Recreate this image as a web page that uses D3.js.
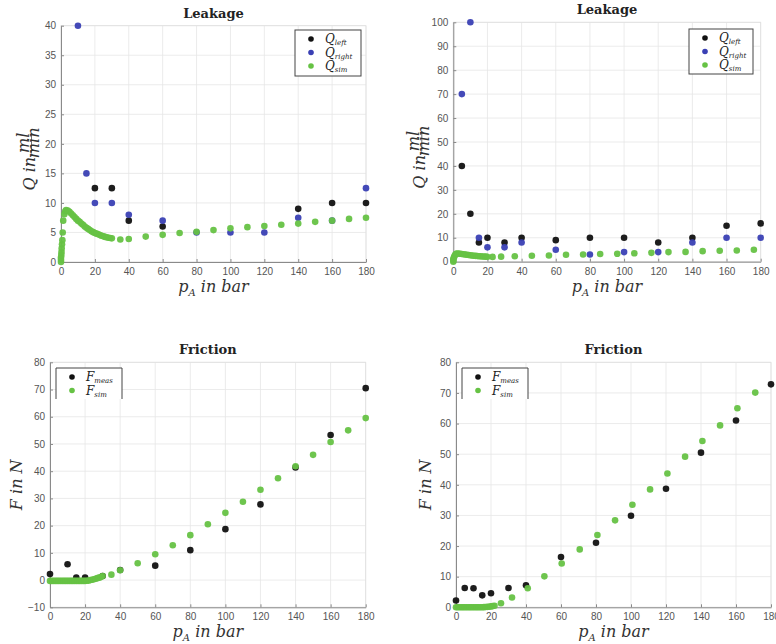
<!DOCTYPE html>
<html lang="en">
<head>
<meta charset="UTF-8" />
<title>Leakage and Friction</title>
<script src="https://d3js.org/d3.v7.min.js"></script>
<style>
  html, body { margin: 0; padding: 0; background: #fff; overflow: hidden; }
  svg { display: block; }
  .tick text { font-family: "Liberation Sans", Arial, sans-serif; font-size: 10px; fill: #555; }
  .ttl { font-family: "DejaVu Serif", "Liberation Serif", serif; font-weight: bold; font-size: 13px; fill: #222; }
  .lbl { font-family: "DejaVu Serif", "Liberation Serif", serif; font-style: italic; font-size: 16px; fill: #333; }
  .leg { font-family: "DejaVu Serif", "Liberation Serif", serif; font-style: italic; font-size: 12px; fill: #222; }
</style>
</head>
<body>
<svg width="776" height="644"></svg>
<script>
// ---- data ----
const xTicks = [0, 20, 40, 60, 80, 100, 120, 140, 160, 180];

// Leakage, left panel
const leakA_left = [[20,12.5],[30,12.5],[40,7],[60,6],[140,9],[160,10],[180,10]];
const leakA_right = [[10,40],[15,15],[20,10],[30,10],[40,8],[60,7],[80,5],[100,5],[120,5],[140,7.5],[160,7],[180,12.5]];
const leakA_sim = [[0,0],[0,0.4],[0,0.8],[0.2,1.2],[0.3,1.7],[0.4,2.3],[0.6,3],[0.8,3.7],[1,5],[1.3,7],[2,8.1],[2.5,8.6],
  [3,8.8],[4,8.7],[5,8.5],[6,8.2],[7,7.9],[8,7.6],[9,7.3],[10,7.0],[11,6.8],[12,6.5],[13,6.3],[14,6.0],[15,5.8],
  [16,5.6],[17,5.4],[18,5.2],[19,5.05],[20,4.9],[21,4.8],[22,4.7],[23,4.55],[24,4.45],[25,4.35],[26,4.25],[27,4.2],
  [28,4.1],[29,4.05],[30,4.0],[35,3.8],[40,3.9],[50,4.3],[60,4.6],[70,4.9],[80,5.1],[90,5.4],[100,5.7],[110,5.9],
  [120,6.1],[130,6.3],[140,6.5],[150,6.8],[160,7.0],[170,7.3],[180,7.5]];

// Leakage, right panel
const leakB_left = [[5,40],[10,20],[15,8],[20,10],[30,8],[40,10],[60,9],[80,10],[100,10],[120,8],[140,10],[160,15],[180,16]];
const leakB_right = [[5,70],[10,100],[15,10],[20,6],[30,6],[40,8],[60,5],[80,3],[100,4],[120,4],[140,8],[160,10],[180,10]];
const leakB_sim = [[0,0],[0,0.5],[0,1],[0.3,1.6],[0.6,2.2],[1,2.8],[1.5,3.2],[2,3.4],[3,3.4],[4,3.3],[5,3.2],[6,3.1],
  [7,3.0],[8,2.9],[9,2.8],[10,2.7],[11,2.6],[12,2.5],[13,2.45],[14,2.4],[15,2.3],[16,2.25],[17,2.2],[18,2.15],[19,2.1],
  [20,2.05],[23,2.0],[28,2.1],[36,2.3],[46,2.5],[56,2.6],[66,2.9],[76,3.0],[86,3.2],[96,3.3],[106,3.5],[116,3.7],
  [126,4.0],[136,4.1],[146,4.4],[156,4.6],[166,4.7],[176,5.0]];

// Friction, left panel
const fricA_meas = [[0,2.2],[10,5.8],[15,0.9],[20,0.9],[30,1.5],[40,3.7],[60,5.3],[80,11],[100,18.7],[120,27.8],[140,41.4],[160,53.3],[180,70.5]];
const fricA_sim = [[0,-0.3],[1,-0.3],[2,-0.3],[3,-0.3],[4,-0.3],[5,-0.3],[6,-0.3],[7,-0.3],[8,-0.3],[9,-0.3],[10,-0.3],
  [11,-0.3],[12,-0.3],[13,-0.3],[14,-0.3],[15,-0.3],[16,-0.3],[17,-0.3],[18,-0.3],[19,-0.3],[20,-0.3],[21,-0.25],
  [22,-0.2],[23,0],[24,0.1],[25,0.3],[26,0.5],[27,0.7],[28,0.9],[29,1.1],[30,1.5],[35,2],[40,3.6],[50,6.2],[60,9.5],
  [70,12.8],[80,16.5],[90,20.5],[100,24.7],[110,28.8],[120,33.2],[130,37.4],[140,41.8],[150,46],[160,50.7],[170,55],[180,59.5]];

// Friction, right panel
const fricB_meas = [[0,2.2],[5,6.3],[10,6.2],[15,3.9],[20,4.6],[30,6.3],[40,7.2],[60,16.4],[80,21.1],[100,29.9],[120,38.7],[140,50.5],[160,61],[180,72.8]];
const fricB_sim = [[0,0],[1,0],[2,0],[3,0],[4,0],[5,0],[6,0],[7,0],[8,0],[9,0],[10,0],[11,0],[12,0],[13,0],[14,0],
  [15,0],[16,0.05],[17,0.1],[18,0.15],[19,0.2],[20,0.3],[21,0.4],[22,0.5],[25.7,1.3],[32,3.2],[41,6.2],[50.5,10.1],
  [60.4,14.3],[70.7,18.9],[80.8,23.6],[90.9,28.4],[100.8,33.5],[110.9,38.5],[120.8,43.7],[130.9,49.2],[140.8,54.3],
  [150.9,59.4],[160.8,65],[171,70.1]];

const colBlack = "#111", colBlue = "#3a40b4", colGreen = "#66c244";

const panels = [
  { box: [61, 366, 25.7, 262], y: [0, 40], yTicks: d3.range(0, 41, 5), title: "Leakage", ylab: "Q", labOff: 29,
    series: [[leakA_left, colBlack], [leakA_right, colBlue], [leakA_sim, colGreen]],
    legend: { x: 295, y: 30, w: 66, h: 46, closed: true,
      items: [["Q", "left", colBlack], ["Q", "right", colBlue], ["Q", "sim", colGreen]] } },
  { box: [453.3, 760.7, 22.3, 261.7], y: [0, 100], yTicks: d3.range(0, 101, 10), title: "Leakage", ylab: "Q", labOff: 31,
    series: [[leakB_left, colBlack], [leakB_right, colBlue], [leakB_sim, colGreen]],
    legend: { x: 689, y: 29, w: 64, h: 45, closed: true,
      items: [["Q", "left", colBlack], ["Q", "right", colBlue], ["Q", "sim", colGreen]] } },
  { box: [50, 365.7, 362.3, 607.3], y: [-10, 80], yTicks: d3.range(-10, 81, 10), title: "Friction", ylab: "F", labOff: 34,
    series: [[fricA_meas, colBlack], [fricA_sim, colGreen]],
    legend: { x: 56, y: 368, w: 66, h: 31, closed: false,
      items: [["F", "meas", colBlack], ["F", "sim", colGreen]] } },
  { box: [456, 771, 362.3, 607.3], y: [0, 80], yTicks: d3.range(0, 81, 10), title: "Friction", ylab: "F", labOff: 31,
    series: [[fricB_meas, colBlack], [fricB_sim, colGreen]],
    legend: { x: 462, y: 368, w: 66, h: 31, closed: false,
      items: [["F", "meas", colBlack], ["F", "sim", colGreen]] } }
];

const svg = d3.select("svg");

panels.forEach(drawPanel);

function drawPanel(p) {
  const [x0, x1, y0, y1] = p.box;
  const x = d3.scaleLinear().domain([0, 180]).range([x0, x1]);
  const y = d3.scaleLinear().domain(p.y).range([y1, y0]);
  const g = svg.append("g");

  // grid
  g.append("g").selectAll("line").data(xTicks).join("line")
    .attr("x1", d => x(d)).attr("x2", d => x(d)).attr("y1", y0).attr("y2", y1)
    .attr("stroke", "#e6e6e6").attr("stroke-width", 0.8);
  g.append("g").selectAll("line").data(p.yTicks).join("line")
    .attr("x1", x0).attr("x2", x1).attr("y1", d => y(d)).attr("y2", d => y(d))
    .attr("stroke", "#e6e6e6").attr("stroke-width", 0.8);
  g.append("rect").attr("x", x0).attr("y", y0).attr("width", x1 - x0).attr("height", y1 - y0)
    .attr("fill", "none").attr("stroke", "#e0e0e0").attr("stroke-width", 0.8);

  // axes
  const ax = g.append("g").attr("transform", `translate(0,${y1})`)
    .call(d3.axisBottom(x).tickValues(xTicks).tickSize(-3).tickPadding(6).tickSizeOuter(0));
  const ay = g.append("g").attr("transform", `translate(${x0},0)`)
    .call(d3.axisLeft(y).tickValues(p.yTicks).tickSize(-3).tickPadding(5).tickSizeOuter(0));
  [ax, ay].forEach(a => {
    a.select(".domain").attr("stroke", "#8a8a8a");
    a.selectAll(".tick line").attr("stroke", "#8a8a8a");
  });

  // points
  p.series.forEach(([data, col]) => {
    g.append("g").selectAll("circle").data(data).join("circle")
      .attr("cx", d => x(d[0])).attr("cy", d => y(d[1])).attr("r", 3.3)
      .attr("fill", col).attr("opacity", 0.95);
  });

  // title
  g.append("text").attr("class", "ttl").attr("x", (x0 + x1) / 2).attr("y", y0 - 8)
    .attr("text-anchor", "middle").text(p.title);

  // x label
  const xl = g.append("text").attr("class", "lbl").attr("x", (x0 + x1) / 2).attr("y", y1 + 30)
    .attr("text-anchor", "middle");
  xl.append("tspan").text("p");
  xl.append("tspan").attr("font-size", 10).attr("dy", 4).text("A");
  xl.append("tspan").attr("dy", -4).text(" in bar");

  // y label
  const cy = (y0 + y1) / 2;
  const lx = x0 - p.labOff;
  if (p.ylab === "Q") {
    const yl = g.append("g").attr("transform", `translate(${lx + 3},${cy + 10}) rotate(-90)`);
    yl.append("text").attr("class", "lbl").attr("x", -3).attr("y", 0).attr("text-anchor", "end")
      .attr("font-size", 18).text("Q in");
    yl.append("text").attr("class", "lbl").attr("x", 11).attr("y", -6).attr("text-anchor", "middle")
      .attr("font-size", 8.5).text("ml");
    yl.append("line").attr("x1", 1).attr("x2", 21).attr("y1", -3.5).attr("y2", -3.5)
      .attr("stroke", "#333").attr("stroke-width", 0.7);
    yl.append("text").attr("class", "lbl").attr("x", 11).attr("y", 3.5).attr("text-anchor", "middle")
      .attr("font-size", 8.5).text("min");
  } else {
    g.append("text").attr("class", "lbl").attr("font-size", 18)
      .attr("transform", `translate(${lx + 6},${cy}) rotate(-90)`)
      .attr("text-anchor", "middle").text("F in N");
  }

  // legend
  const L = p.legend;
  const lg = g.append("g").attr("transform", `translate(${L.x},${L.y})`);
  lg.append("rect").attr("width", L.w).attr("height", L.h).attr("fill", "#fff");
  if (L.closed) {
    lg.append("rect").attr("width", L.w).attr("height", L.h).attr("fill", "none")
      .attr("stroke", "#444").attr("stroke-width", 1);
  } else {
    lg.append("path").attr("d", `M0,${L.h}V0H${L.w}V${L.h}`).attr("fill", "none")
      .attr("stroke", "#444").attr("stroke-width", 1);
  }
  L.items.forEach(([base, sub, col], i) => {
    const yy = 9 + i * 13.5;
    lg.append("circle").attr("cx", 16).attr("cy", yy).attr("r", 2.8).attr("fill", col);
    const t = lg.append("text").attr("class", "leg").attr("x", 30).attr("y", yy + 4);
    t.append("tspan").text(base);
    t.append("tspan").attr("font-size", 7).attr("dy", 2).text(sub);
  });
}
</script>
</body>
</html>
